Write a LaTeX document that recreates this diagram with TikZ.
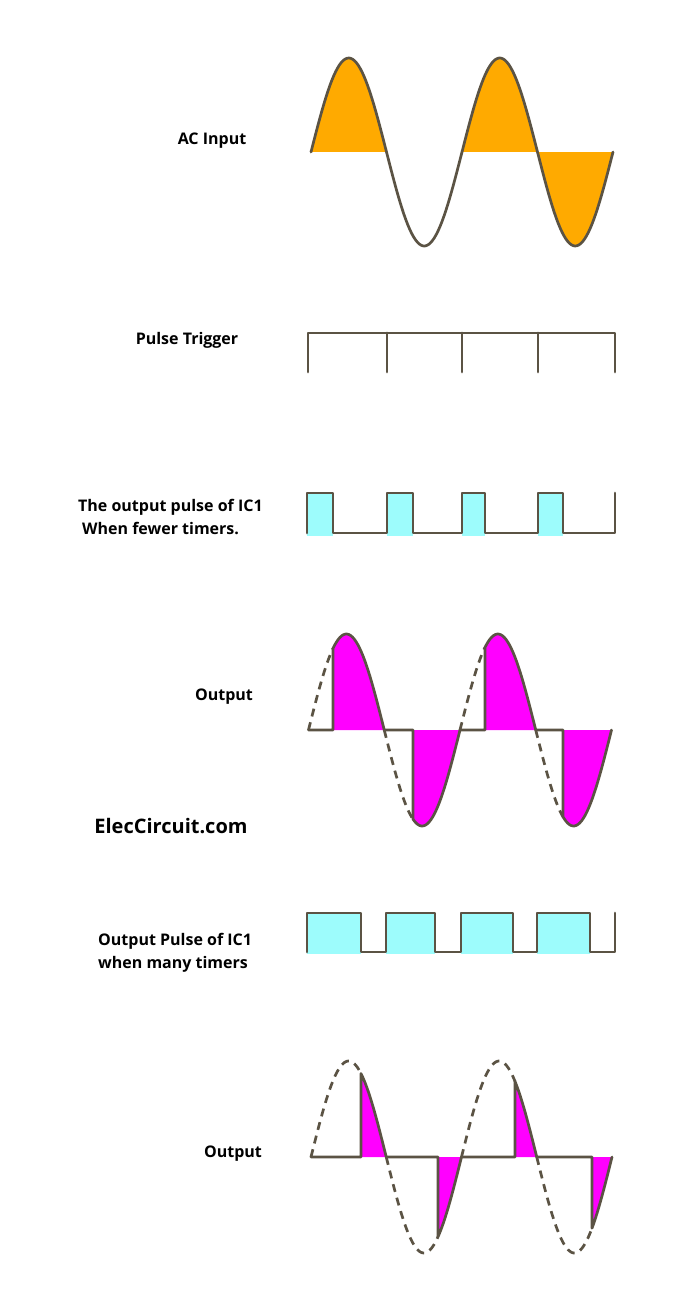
\documentclass[tikz,border=0pt]{standalone}
\usepackage{fontspec}
\setmainfont{Open Sans}
\usepackage{tikz}
\usetikzlibrary{positioning}

\definecolor{linec}{HTML}{5B5344}
\definecolor{acfill}{HTML}{FFAA00}
\definecolor{pulsec}{HTML}{9DFCFC}
\definecolor{outc}{HTML}{FF00FF}

\begin{document}
\begin{tikzpicture}[
    x=1pt, y=-1pt,
    declare function={sn(\x,\o,\p)=sin((\x-\o)/\p*360);},
    every node/.style={font=\bfseries\fontsize{16}{23}\selectfont, inner sep=0pt},
    lbl/.style={align=left, anchor=west},
    wavel/.style={draw=linec, line width=2.7pt, line join=round, line cap=round},
    dashl/.style={wavel, line cap=butt, dash pattern=on 8pt off 6pt}
]
\useasboundingbox[fill=white] (0,0) rectangle (700,1311);

% labels
\node (acin) at (212,141) {AC Input};
\node (trig) at (187,340) {Pulse Trigger};
\node[lbl] (fewer) at (78,517) {The output pulse of IC1\\\hspace{4pt}When fewer timers.};
\node (out1) at (224,697) {Output};
\node[font=\bfseries\fontsize{20}{24}\selectfont] (brand) at (171,826) {ElecCircuit.com};
\node[lbl] (many) at (98,953) {Output Pulse of IC1\\when many timers};
\node (out2) at (233,1154) {Output};

% AC input
\foreach \a/\b in {311/386.5,462/537.5,537.5/613}
  \fill[acfill] plot[domain=\a:\b, samples=40] (\x,{152-94*sn(\x,311,151)}) -- cycle;
\draw[wavel] plot[domain=311:613, samples=160] (\x,{152-94*sn(\x,311,151)});

% pulse trigger
\draw[wavel] (308,372) -- (308,333) -- (615,333) -- (615,372);
\foreach \a in {387,462,538}
  \draw[wavel] (\a,333) -- (\a,372);

% output pulse of IC1, fewer timers
\foreach \a/\b in {307/333,387/413,462/485,538/563}
  \fill[pulsec] (\a,494) rectangle (\b,536);
\draw[wavel] (307,533) -- (307,493) -- (333,493) -- (333,533) -- (387,533) -- (387,493)
  -- (413,493) -- (413,533) -- (462,533) -- (462,493) -- (485,493) -- (485,533)
  -- (538,533) -- (538,493) -- (563,493) -- (563,533) -- (615,533) -- (615,493);

% output, fewer timers
\foreach \k/\t in {0/333,1/413,2/485,3/563} {
  \pgfmathsetmacro\za{308.5+\k*75.75}
  \pgfmathsetmacro\zb{\za+75.75}
  \fill[outc] (\t,730) -- plot[domain=\t:\zb, samples=30] (\x,{730-96*sn(\x,308.5,151.5)}) -- cycle;
  \draw[dashl] plot[domain=\za:\t, samples=20] (\x,{730-96*sn(\x,308.5,151.5)});
  \draw[wavel] (\za,730) -- (\t,730) -- plot[domain=\t:\zb, samples=30] (\x,{730-96*sn(\x,308.5,151.5)});
}

% output pulse of IC1, many timers
\foreach \a/\b in {307/361,386/435,461/513,537/590}
  \fill[pulsec] (\a,914) rectangle (\b,954);
\draw[wavel] (307,952) -- (307,913) -- (361,913) -- (361,952) -- (386,952) -- (386,913)
  -- (435,913) -- (435,952) -- (461,952) -- (461,913) -- (513,913) -- (513,952)
  -- (537,952) -- (537,913) -- (590,913) -- (590,952) -- (615,952) -- (615,913);

% output, many timers
\foreach \k/\t in {0/361,1/438,2/515,3/592} {
  \pgfmathsetmacro\za{311+\k*75.25}
  \pgfmathsetmacro\zb{\za+75.25}
  \fill[outc] (\t,1157) -- plot[domain=\t:\zb, samples=30] (\x,{1157-96*sn(\x,311,150.5)}) -- cycle;
  \draw[dashl] plot[domain=\za:\t, samples=40] (\x,{1157-96*sn(\x,311,150.5)});
  \draw[wavel] (\za,1157) -- (\t,1157) -- plot[domain=\t:\zb, samples=30] (\x,{1157-96*sn(\x,311,150.5)});
}
\end{tikzpicture}
\end{document}
